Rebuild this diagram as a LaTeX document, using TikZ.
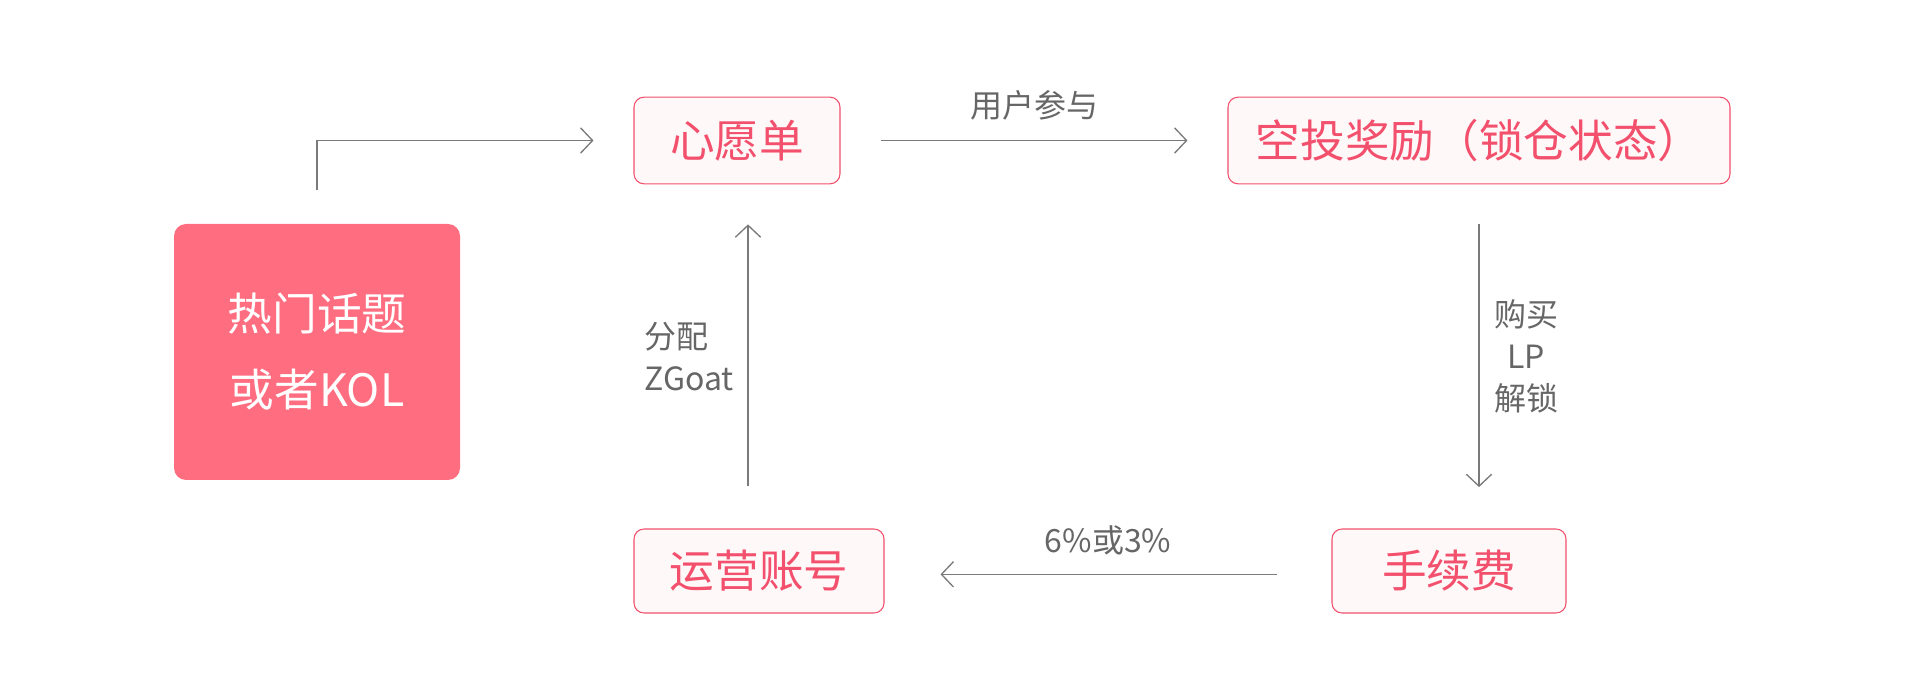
\documentclass[tikz,border=0pt]{standalone}
\usepackage{fontspec}
\setmainfont{Noto Sans CJK SC}
\usepackage{xcolor}
\usetikzlibrary{positioning, arrows.meta, calc}

\definecolor{rosered}{HTML}{F2506D}
\definecolor{rosefill}{HTML}{FFF8F8}
\definecolor{kolfill}{HTML}{FF6E80}
\definecolor{arrgray}{HTML}{7A7A7A}
\definecolor{lblgray}{HTML}{666666}

\begin{document}
\begin{tikzpicture}[
  x=0.75pt, y=-0.75pt,
  arr/.style={-{Straight Barb[length=9pt, width=19pt]}, line width=1pt, arrgray},
  lbl/.style={text=lblgray, font=\fontsize{24}{31.5}\selectfont, inner sep=0pt},
  stepbox/.style={draw=rosered, fill=rosefill, rounded corners=7.5pt, line width=0.8pt,
                  minimum height=65pt, align=center, text=rosered,
                  font=\fontsize{33.5}{38}\selectfont},
  kolbox/.style={fill=kolfill, rounded corners=9pt, minimum width=214.5pt,
                 minimum height=192pt, align=center, text=white,
                 font=\fontsize{33.5}{57}\selectfont}
]
\useasboundingbox (0,0) rectangle (1920,680);

% ---- Source box ----
\node[kolbox] (kol) at (317,352) {热门话题\\或者KOL};

% ---- Flow boxes ----
\node[stepbox, minimum width=154.5pt] (wish)    at (737,140.5)  {心愿单};
\node[stepbox, minimum width=376.5pt] (airdrop) at (1479,140.5) {空投奖励（锁仓状态）};
\node[stepbox, minimum width=175.5pt, minimum height=63pt] (fee) at (1449,571) {手续费};
\node[stepbox, minimum width=187.5pt, minimum height=63pt] (ops) at (759,571)  {运营账号};

% ---- Arrows ----
\draw[arr, shorten <=25pt, shorten >=30pt] (kol.north) |- (wish.west);

\draw[arr, shorten <=30pt, shorten >=30pt] (wish.east) -- (airdrop.west)
  node[lbl, midway, above=15pt] {用户参与};

\draw[arr, shorten <=30pt, shorten >=31pt] (airdrop.south) -- (airdrop.south |- fee.north)
  node[lbl, midway, right=11pt, align=center] {购买\\LP\\解锁};

\draw[arr, shorten <=41pt, shorten >=42pt]
  ([yshift=-2.5pt]fee.west) -- ([yshift=-2.5pt]ops.east)
  node[lbl, midway, above=14pt] {6\%或3\%};

\draw[arr, shorten <=31.5pt, shorten >=30pt]
  ([xshift=-8.25pt]ops.north) -- ([xshift=-8.25pt]ops.north |- wish.south)
  node[lbl, midway, left=10pt, align=left] {分配\\ZGoat};

\end{tikzpicture}
\end{document}
